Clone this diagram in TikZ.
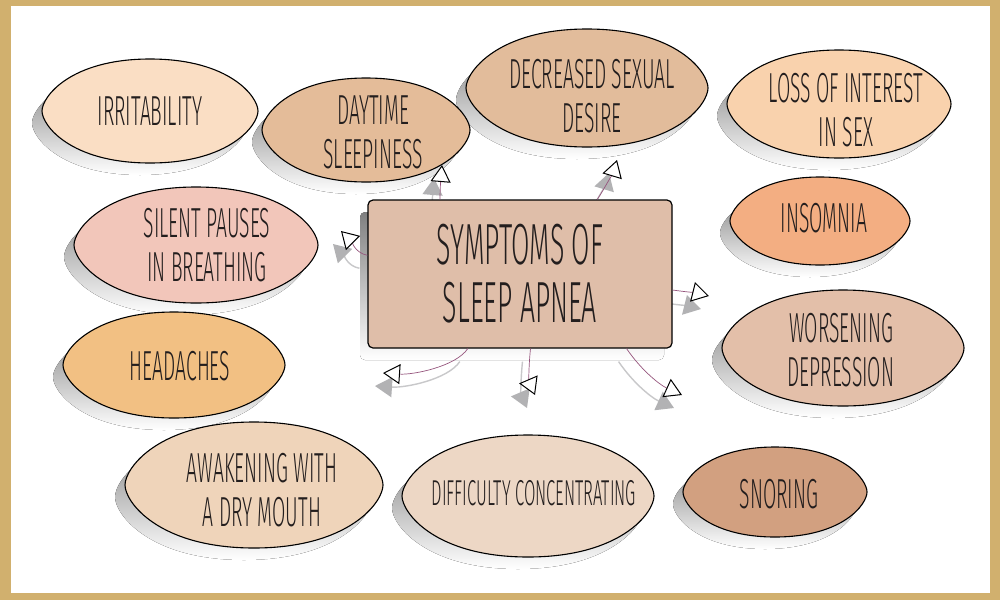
\documentclass[tikz,border=0pt]{standalone}
\usepackage{fontspec}
\usetikzlibrary{arrows.meta}
\newfontfamily\hand{Fira Sans Light}[FakeStretch=0.46]
\definecolor{gold}{RGB}{209,176,110}
\definecolor{shade}{RGB}{183,183,186}
\definecolor{lineshade}{RGB}{200,200,202}
\definecolor{tipshade}{RGB}{178,178,180}
\definecolor{ink}{RGB}{35,30,30}
\definecolor{mauve}{RGB}{150,85,125}
\definecolor{boxc}{RGB}{223,190,169}
\definecolor{irrc}{RGB}{250,222,196}
\definecolor{dayc}{RGB}{228,188,153}
\definecolor{decc}{RGB}{226,188,155}
\definecolor{lossc}{RGB}{249,210,173}
\definecolor{insc}{RGB}{243,174,130}
\definecolor{silc}{RGB}{242,198,186}
\definecolor{headc}{RGB}{242,192,131}
\definecolor{worc}{RGB}{227,191,169}
\definecolor{awac}{RGB}{239,212,186}
\definecolor{difc}{RGB}{237,215,197}
\definecolor{snoc}{RGB}{210,160,128}
\pgfdeclarelayer{bg}
\pgfsetlayers{bg,main}
\newcommand{\leafpath}[2]{(-#1,0)
  .. controls (-#1,{-0.27*#2}) and ({-0.74*#1},-#2) .. (0,-#2)
  .. controls ({0.74*#1},-#2) and (#1,{-0.27*#2}) .. (#1,0)
  .. controls (#1,{0.27*#2}) and ({0.74*#1},#2) .. (0,#2)
  .. controls ({-0.74*#1},#2) and (-#1,{0.27*#2}) .. cycle}
\def\leaves{150/111/108/52/irrc, 366/130/104/52/dayc, 587/88/121/59/decc,
  839/104/112/54/lossc, 820/221/90/44/insc, 196/245/122/58/silc,
  174/365/111/53/headc, 843/348/121/58/worc, 254/485/129/63/awac,
  528/496/126/61/difc, 775/492/92/45/snoc}
\def\spokes{173/{-12,-2}/{10,10}/ta, 137.6/{0,-12}/{-1,12}/tb,
  44/{8,-12}/{-3,10}/tc, -6/{15,2}/{-12,-3}/td, 235/{-12,18}/{30,2}/te,
  -82/{-2,20}/{-6,-14}/tf, -35/{15,22}/{-22,-10}/tg}
\tikzset{
  leaf/.style={draw=black, line width=1.1pt},
  lbl/.style={font={\hand\fontsize{42}{44}\selectfont}, text=ink, align=center, inner sep=0pt},
  box/.style={draw=black, line width=1.2pt, fill=boxc, rounded corners=5pt,
    minimum width=304pt, minimum height=148pt, inner sep=0pt,
    font={\hand\fontsize{58}{58}\selectfont}, text=ink, align=center},
  arr/.style={draw=mauve, line width=0.7pt,
    -{Triangle[length=17pt,width=20pt,fill=white,color=black,line width=1pt]}},
  shline/.style={draw=lineshade, line width=1.4pt,
    -{Triangle[length=17pt,width=20pt,fill=tipshade,color=tipshade]}}
}
\begin{document}
\begin{tikzpicture}[x=1pt,y=-1pt]
\begin{pgfonlayer}{bg}
\fill[gold] (0,0) rectangle (1000,600);
\fill[white] (11,6) rectangle (990,593);
\end{pgfonlayer}

\foreach \x/\y/\rx/\ry/\col in \leaves
  \fill[shade,shift={(\x-10,\y+12)}] \leafpath{\rx}{\ry};
\foreach \x/\y/\rx/\ry/\col in \leaves
  \filldraw[leaf,fill=\col,shift={(\x,\y)}] \leafpath{\rx}{\ry};

\node[lbl] (irr) at (150,111) {IRRITABILITY};
\node[lbl] (day) at (373,132) {DAYTIME\\SLEEPINESS};
\node[lbl] (dec) at (592,96) {DECREASED SEXUAL\\DESIRE};
\node[lbl] (loss) at (846,110) {LOSS OF INTEREST\\IN SEX};
\node[lbl] (ins) at (824,218) {INSOMNIA};
\node[lbl] (sil) at (207,245) {SILENT PAUSES\\IN BREATHING};
\node[lbl] (head) at (180,366) {HEADACHES};
\node[lbl] (wor) at (841,350) {WORSENING\\DEPRESSION};
\node[lbl] (awa) at (262,490) {AWAKENING WITH\\A DRY MOUTH};
\node[lbl,font={\hand\fontsize{36}{40}\selectfont}] (dif) at (534,493) {DIFFICULTY CONCENTRATING};
\node[lbl] (sno) at (779,494) {SNORING};

\fill[shade,rounded corners=5pt] (360,212) rectangle (664,360);
\node[box] (sym) at (520,274) {SYMPTOMS OF\\SLEEP APNEA};

\coordinate (ta) at (341,231);
\coordinate (tb) at (442,165);
\coordinate (tc) at (617,160);
\coordinate (td) at (709,296);
\coordinate (te) at (383,373);
\coordinate (tf) at (535,395);
\coordinate (tg) at (682,395);

\begin{pgfonlayer}{bg}
\foreach \sa/\ca/\cb/\tip in \spokes
  \draw[shline,transform canvas={shift={(-8pt,-13pt)}}] (sym.\sa) .. controls +(\ca) and +(\cb) .. (\tip);
\end{pgfonlayer}
\foreach \sa/\ca/\cb/\tip in \spokes
  \draw[arr] (sym.\sa) .. controls +(\ca) and +(\cb) .. (\tip);
\end{tikzpicture}
\end{document}
